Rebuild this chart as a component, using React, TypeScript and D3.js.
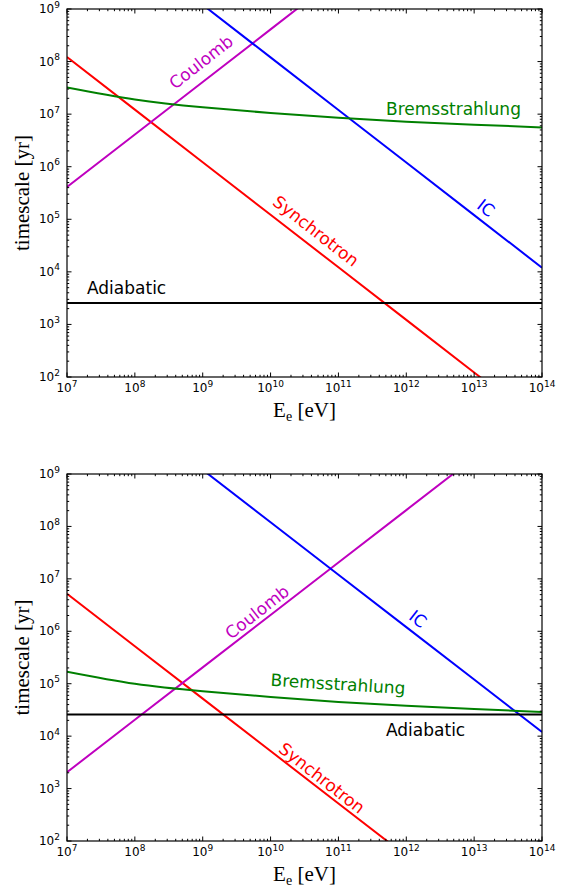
import React from 'react';
import * as d3 from 'd3';

const W = 569;
const H = 889;

const energies = [1e7, 1e8, 1e9, 1e10, 1e11, 1e12, 1e13, 1e14];
const xTickExponents = [7, 8, 9, 10, 11, 12, 13, 14];
const yTickExponents = [2, 3, 4, 5, 6, 7, 8, 9];

// Top panel timescales (yr)
const topSynchrotron = [1.22e8, 1.22e7, 1.22e6, 1.22e5, 1.22e4, 1.22e3, 1.22e2, 1.22e1];
const topCoulomb = [4.1e5, 4.1e6, 4.1e7, 4.1e8, 4.1e9, 4.1e10, 4.1e11, 4.1e12];
const topIC = [1.2e11, 1.2e10, 1.2e9, 1.2e8, 1.2e7, 1.2e6, 1.2e5, 1.2e4];
const topBrems = [3.2e7, 1.9e7, 1.35e7, 1.05e7, 8.5e6, 7.2e6, 6.3e6, 5.6e6];
const topAdiabatic = [2.55e3, 2.55e3, 2.55e3, 2.55e3, 2.55e3, 2.55e3, 2.55e3, 2.55e3];

// Bottom panel timescales (yr)
const botSynchrotron = [5.2e6, 5.2e5, 5.2e4, 5.2e3, 5.2e2, 5.2e1, 5.2e0, 5.2e-1];
const botCoulomb = [2.05e3, 2.05e4, 2.05e5, 2.05e6, 2.05e7, 2.05e8, 2.05e9, 2.05e10];
const botIC = [1.2e11, 1.2e10, 1.2e9, 1.2e8, 1.2e7, 1.2e6, 1.2e5, 1.2e4];
const botBrems = [1.7e5, 1.0e5, 7.2e4, 5.6e4, 4.5e4, 3.8e4, 3.3e4, 2.88e4];
const botAdiabatic = [2.6e4, 2.6e4, 2.6e4, 2.6e4, 2.6e4, 2.6e4, 2.6e4, 2.6e4];

const COLORS = {
  synchrotron: '#ff0000',
  coulomb: '#bf00bf',
  ic: '#0000ff',
  brems: '#008000',
  adiabatic: '#000000',
};

type Label = { text: string; x: number; y: number; rot: number; color: string; anchor: string; baseline: string };

type PanelProps = {
  id: string;
  top: number;
  bottom: number;
  series: { values: number[]; color: string; curved: boolean }[];
  labels: Label[];
};

const LEFT = 67;
const RIGHT = 542;
const SANS = 'DejaVu Sans, sans-serif';
const SERIF = 'Liberation Serif, Times New Roman, serif';

function Panel({ id, top, bottom, series, labels }: PanelProps) {
  const x = d3.scaleLog().domain([1e7, 1e14]).range([LEFT, RIGHT]);
  const y = d3.scaleLog().domain([1e2, 1e9]).range([bottom, top]);

  const minorX: number[] = [];
  for (let e = 7; e < 14; e++) for (let m = 2; m <= 9; m++) minorX.push(m * Math.pow(10, e));
  const minorY: number[] = [];
  for (let e = 2; e < 9; e++) for (let m = 2; m <= 9; m++) minorY.push(m * Math.pow(10, e));

  const maj = 4.5;
  const mnr = 2.2;

  return (
    <g>
      <defs>
        <clipPath id={`clip-${id}`}>
          <rect x={LEFT} y={top} width={RIGHT - LEFT} height={bottom - top} />
        </clipPath>
      </defs>
      <g clipPath={`url(#clip-${id})`}>
        {series.map((s, i) => {
          const pts: [number, number][] = energies.map((e, j) => [x(e), y(s.values[j])]);
          const line = d3.line().curve(s.curved ? d3.curveNatural : d3.curveLinear);
          return <path key={i} d={line(pts) || ''} fill="none" stroke={s.color} strokeWidth={2} />;
        })}
      </g>
      {labels.map((l, i) => (
        <text
          key={i}
          x={l.x}
          y={l.y}
          transform={`rotate(${l.rot},${l.x},${l.y})`}
          fill={l.color}
          fontFamily={SANS}
          fontSize={17}
          textAnchor={l.anchor as any}
          dominantBaseline={l.baseline as any}
        >
          {l.text}
        </text>
      ))}
      {/* ticks */}
      <g stroke="#000" strokeWidth={1}>
        {xTickExponents.map((e) => {
          const xx = x(Math.pow(10, e));
          return (
            <g key={`xm${e}`}>
              <line x1={xx} x2={xx} y1={bottom} y2={bottom - maj} />
              <line x1={xx} x2={xx} y1={top} y2={top + maj} />
            </g>
          );
        })}
        {minorX.map((v, i) => {
          const xx = x(v);
          return (
            <g key={`xn${i}`}>
              <line x1={xx} x2={xx} y1={bottom} y2={bottom - mnr} />
              <line x1={xx} x2={xx} y1={top} y2={top + mnr} />
            </g>
          );
        })}
        {yTickExponents.map((e) => {
          const yy = y(Math.pow(10, e));
          return (
            <g key={`ym${e}`}>
              <line x1={LEFT} x2={LEFT + maj} y1={yy} y2={yy} />
              <line x1={RIGHT} x2={RIGHT - maj} y1={yy} y2={yy} />
            </g>
          );
        })}
        {minorY.map((v, i) => {
          const yy = y(v);
          return (
            <g key={`yn${i}`}>
              <line x1={LEFT} x2={LEFT + mnr} y1={yy} y2={yy} />
              <line x1={RIGHT} x2={RIGHT - mnr} y1={yy} y2={yy} />
            </g>
          );
        })}
      </g>
      <rect x={LEFT} y={top} width={RIGHT - LEFT} height={bottom - top} fill="none" stroke="#000" strokeWidth={1.2} />
      {/* tick labels */}
      {xTickExponents.map((e) => (
        <text key={`xl${e}`} x={x(Math.pow(10, e))} y={bottom + 15} textAnchor="middle" fontFamily={SANS} fontSize={12} fill="#000">
          10<tspan dy={-5.5} fontSize={9}>{e}</tspan>
        </text>
      ))}
      {yTickExponents.map((e) => (
        <text key={`yl${e}`} x={LEFT - 7} y={y(Math.pow(10, e)) + 4} textAnchor="end" fontFamily={SANS} fontSize={12} fill="#000">
          10<tspan dy={-5.5} fontSize={9}>{e}</tspan>
        </text>
      ))}
      {/* axis titles */}
      <text
        x={22}
        y={(top + bottom) / 2}
        transform={`rotate(-90,22,${(top + bottom) / 2})`}
        textAnchor="middle"
        dominantBaseline="central"
        fontFamily={SERIF}
        fontSize={21}
        fill="#000"
      >
        timescale [yr]
      </text>
      <text x={(LEFT + RIGHT) / 2} y={bottom + 40} textAnchor="middle" fontFamily={SERIF} fontSize={21} fill="#000">
        E<tspan fontSize={14} dy={4}>e</tspan>
        <tspan dy={-4}> [eV]</tspan>
      </text>
    </g>
  );
}

export default function App() {
  const topSeries = [
    { values: topSynchrotron, color: COLORS.synchrotron, curved: false },
    { values: topCoulomb, color: COLORS.coulomb, curved: false },
    { values: topIC, color: COLORS.ic, curved: false },
    { values: topBrems, color: COLORS.brems, curved: true },
    { values: topAdiabatic, color: COLORS.adiabatic, curved: false },
  ];
  const botSeries = [
    { values: botSynchrotron, color: COLORS.synchrotron, curved: false },
    { values: botCoulomb, color: COLORS.coulomb, curved: false },
    { values: botIC, color: COLORS.ic, curved: false },
    { values: botBrems, color: COLORS.brems, curved: true },
    { values: botAdiabatic, color: COLORS.adiabatic, curved: false },
  ];
  const topLabels: Label[] = [
    { text: 'Coulomb', x: 201, y: 62, rot: -38, color: COLORS.coulomb, anchor: 'middle', baseline: 'central' },
    { text: 'Synchrotron', x: 316, y: 231, rot: 38, color: COLORS.synchrotron, anchor: 'middle', baseline: 'central' },
    { text: 'IC', x: 486, y: 208, rot: 38, color: COLORS.ic, anchor: 'middle', baseline: 'central' },
    { text: 'Bremsstrahlung', x: 386, y: 115, rot: 0, color: COLORS.brems, anchor: 'start', baseline: 'alphabetic' },
    { text: 'Adiabatic', x: 87, y: 294, rot: 0, color: COLORS.adiabatic, anchor: 'start', baseline: 'alphabetic' },
  ];
  const botLabels: Label[] = [
    { text: 'Coulomb', x: 257, y: 612, rot: -38, color: COLORS.coulomb, anchor: 'middle', baseline: 'central' },
    { text: 'IC', x: 418, y: 619, rot: 38, color: COLORS.ic, anchor: 'middle', baseline: 'central' },
    { text: 'Bremsstrahlung', x: 338, y: 684, rot: 3.5, color: COLORS.brems, anchor: 'middle', baseline: 'central' },
    { text: 'Adiabatic', x: 386, y: 736, rot: 0, color: COLORS.adiabatic, anchor: 'start', baseline: 'alphabetic' },
    { text: 'Synchrotron', x: 322, y: 778, rot: 38, color: COLORS.synchrotron, anchor: 'middle', baseline: 'central' },
  ];
  return (
    <svg width={W} height={H} style={{ position: 'absolute', left: 0, top: 0, background: '#fff' }}>
      <rect x={0} y={0} width={W} height={H} fill="#fff" />
      <Panel id="top" top={9} bottom={377} series={topSeries} labels={topLabels} />
      <Panel id="bot" top={474} bottom={841} series={botSeries} labels={botLabels} />
    </svg>
  );
}
